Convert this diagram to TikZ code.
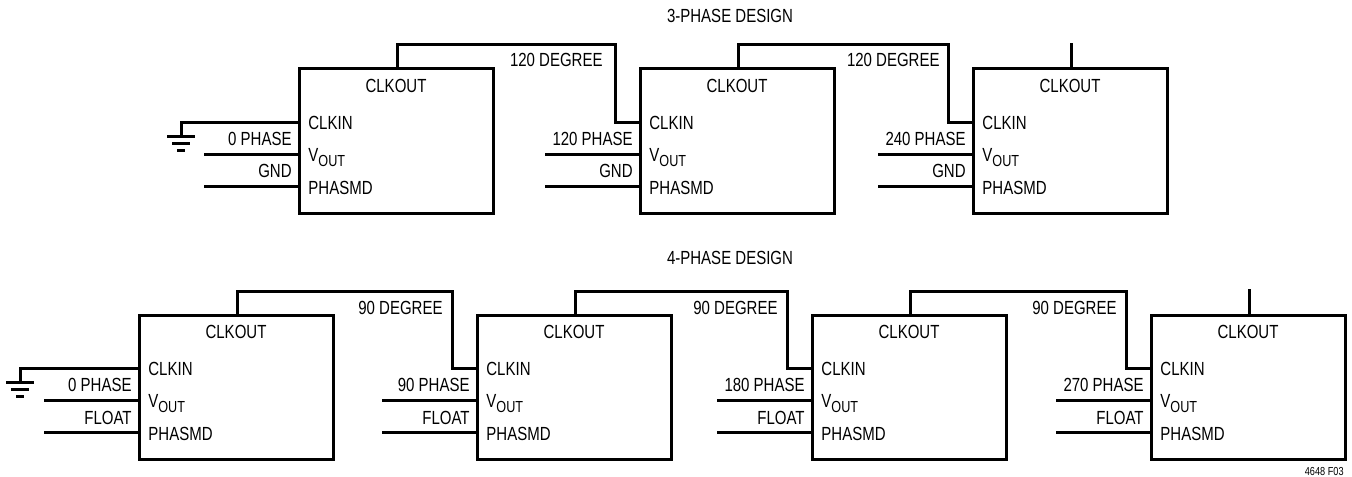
\documentclass[tikz,border=0pt]{standalone}
\usepackage{fontspec}
\setmainfont{Liberation Sans}[FakeStretch=0.79]
\usetikzlibrary{calc}

\begin{document}
\begin{tikzpicture} [
        x=0.5pt, y=-0.5pt,
        chip/.style={draw, line width=1.5pt, anchor=north west, outer sep=0pt,
                     inner sep=0pt, minimum width=97pt, minimum height=72pt},
        wire/.style={line width=1.5pt},
        txt/.style={inner sep=0pt, font=\fontsize{9.5}{11}\selectfont},
        pinname/.style={txt, anchor=base west},
        netname/.style={txt, anchor=base east} ]
    \useasboundingbox (0,0) rectangle (1352,476);

    % 3-phase design
    \node[txt, anchor=base] (title3) at (730,23) {3-PHASE DESIGN};
    \node[chip] (t1) at (299,69) {};
    \node[chip] (t2) at (640,69) {};
    \node[chip] (t3) at (973,69) {};

    % 4-phase design
    \node[txt, anchor=base] (title4) at (730,264) {4-PHASE DESIGN};
    \node[chip] (b1) at (139,315) {};
    \node[chip] (b2) at (477,315) {};
    \node[chip] (b3) at (812,315) {};
    \node[chip] (b4) at (1151,315) {};

    % pins of every chip
    \foreach \c in {t1,t2,t3,b1,b2,b3,b4} {
        \node[txt, anchor=base] (\c-clkout) at ($(\c.north west)+(97,23)$) {CLKOUT};
        \node[pinname] (\c-clkin) at ($(\c.north west)+(9,60)$) {CLKIN};
        \node[pinname] (\c-vout) at ($(\c.north west)+(9,92)$)
            {V\raisebox{-2.8pt}{\fontsize{8}{9}\selectfont OUT}};
        \node[pinname] (\c-phasmd) at ($(\c.north west)+(9,125)$) {PHASMD};
        \coordinate (\c-in) at ($(\c.north west)+(0,53)$);
        \coordinate (\c-vo) at ($(\c.north west)+(0,85)$);
        \coordinate (\c-pm) at ($(\c.north west)+(0,117)$);
        \coordinate (\c-out) at ($(\c.north west)+(98,0)$);
        \coordinate (\c-drop) at ($(\c-in)+(-25,0)$);
        \coordinate (\c-vend) at ($(\c-vo)+(-95,0)$);
        \coordinate (\c-pend) at ($(\c-pm)+(-95,0)$);
        \draw[wire] (\c-vend) -- (\c-vo);
        \draw[wire] (\c-pend) -- (\c-pm);
    }

    % clock chain, 3-phase
    \draw[wire] (t1-out) -- ++(0,-24) -| (t2-drop) -- (t2-in);
    \draw[wire] (t2-out) -- ++(0,-24) -| (t3-drop) -- (t3-in);
    \draw[wire] (t3-out) -- ++(0,-26);
    \node[netname] (deg12) at ($(t2-drop)+(-12,-55)$) {120 DEGREE};
    \node[netname] (deg23) at ($(t3-drop)+(-8,-55)$) {120 DEGREE};

    % clock chain, 4-phase
    \draw[wire] (b1-out) -- ++(0,-24) -| (b2-drop) -- (b2-in);
    \draw[wire] (b2-out) -- ++(0,-24) -| (b3-drop) -- (b3-in);
    \draw[wire] (b3-out) -- ++(0,-24) -| (b4-drop) -- (b4-in);
    \draw[wire] (b4-out) -- ++(0,-26);
    \node[netname] (deg12b) at ($(b2-drop)+(-9,-54)$) {90 DEGREE};
    \node[netname] (deg23b) at ($(b3-drop)+(-9,-54)$) {90 DEGREE};
    \node[netname] (deg34b) at ($(b4-drop)+(-9,-54)$) {90 DEGREE};

    % grounds on the first CLKIN
    \draw[wire] (t1-in) -- ++(-118,0) coordinate (tg) -- ++(0,14) coordinate (tg1);
    \draw[wire] ($(tg1)+(-14,0)$) -- ($(tg1)+(14,0)$);
    \draw[wire] ($(tg1)+(-9,7)$) -- ($(tg1)+(9,7)$);
    \draw[wire] ($(tg1)+(-4,14)$) -- ($(tg1)+(4,14)$);
    \draw[wire] (b1-in) -- ++(-119,0) coordinate (bg) -- ++(0,14) coordinate (bg1);
    \draw[wire] ($(bg1)+(-14,0)$) -- ($(bg1)+(14,0)$);
    \draw[wire] ($(bg1)+(-9,7)$) -- ($(bg1)+(9,7)$);
    \draw[wire] ($(bg1)+(-4,14)$) -- ($(bg1)+(4,14)$);

    % net names
    \node[netname] at ($(t1.north west)+(-7,76)$) {0 PHASE};
    \node[netname] at ($(t2.north west)+(-7,76)$) {120 PHASE};
    \node[netname] at ($(t3.north west)+(-7,76)$) {240 PHASE};
    \foreach \c in {t1,t2,t3}
        \node[netname] at ($(\c.north west)+(-7,108)$) {GND};
    \node[netname] at ($(b1.north west)+(-7,76)$) {0 PHASE};
    \node[netname] at ($(b2.north west)+(-7,76)$) {90 PHASE};
    \node[netname] at ($(b3.north west)+(-7,76)$) {180 PHASE};
    \node[netname] at ($(b4.north west)+(-7,76)$) {270 PHASE};
    \foreach \c in {b1,b2,b3,b4}
        \node[netname] at ($(\c.north west)+(-7,109)$) {FLOAT};

    \node[anchor=base east, inner sep=0pt, font=\fontsize{5.8}{7}\selectfont] (figno) at (1344,475) {4648 F03};
\end{tikzpicture}
\end{document}
